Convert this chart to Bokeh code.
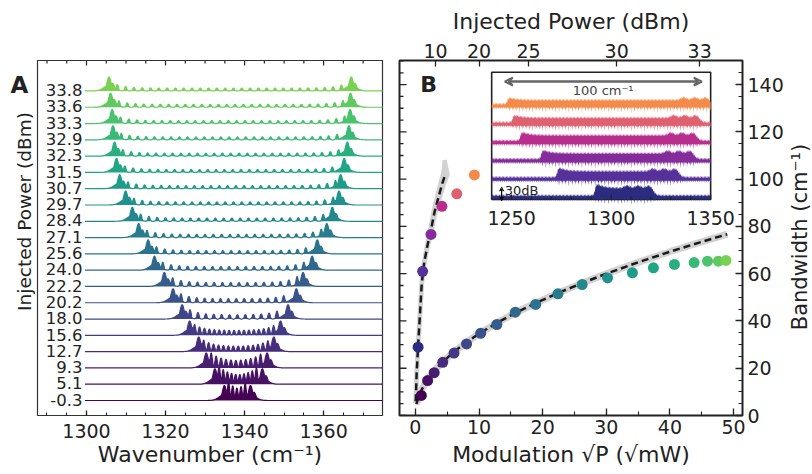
import math
import numpy as np
from bokeh.plotting import figure
from bokeh.layouts import row
from bokeh.models import (Range1d, LinearAxis, FixedTicker, SingleIntervalTicker, Arrow, VeeHead)
from bokeh.embed import file_html
from bokeh.resources import INLINE
from bokeh.palettes import Viridis256
from bokeh.core.properties import value

FONT = "DejaVu Sans"
INK = "#222222"

# ---------------- data: panel A (spectra) ----------------
power_labels = ["-0.3", "5.1", "9.3", "12.7", "15.6", "18.0", "20.2", "22.2", "24.0", "25.6",
                "27.1", "28.4", "29.7", "30.7", "31.5", "32.3", "32.9", "33.3", "33.6", "33.8"]
left_peak = [1334.9, 1332.5, 1330.3, 1328.4, 1326.1, 1324.2, 1321.9, 1319.7, 1317.2, 1315.6,
             1313.2, 1311.6, 1309.9, 1308.4, 1307.6, 1307.1, 1306.7, 1306.5, 1306.1, 1305.7]
right_peak = [1341.5, 1344.5, 1345.7, 1347.4, 1349.1, 1351.0, 1353.1, 1354.8, 1357.1, 1358.4,
              1360.8, 1362.2, 1363.9, 1364.3, 1365.2, 1366.0, 1366.4, 1366.7, 1366.8, 1367.0]
comb_spacing = [1.05, 1.05, 1.25, 1.25, 1.25, 2.0, 2.0, 2.1, 2.1, 2.1,
                2.1, 2.1, 2.1, 2.1, 2.1, 2.1, 2.1, 2.1, 2.1, 2.1]
comb_height = [0.5, 0.5, 0.42, 0.32, 0.3, 0.26, 0.25, 0.24, 0.22, 0.2,
               0.2, 0.2, 0.19, 0.19, 0.18, 0.18, 0.18, 0.18, 0.18, 0.18]
peak_height = [0.92, 0.95, 0.92, 0.9, 0.88, 0.88, 0.86, 0.86, 0.86, 0.86,
               0.86, 0.86, 0.86, 0.86, 0.86, 0.86, 0.86, 0.86, 0.86, 0.86]
a_ticks_major = [1300, 1320, 1340, 1360]

# ---------------- data: panel B ----------------
sqrt_p = [0.93, 1.92, 2.95, 4.3, 6.07, 8.04, 10.26, 12.8, 15.7, 18.9,
          22.4, 26.2, 30.2, 34.1, 37.4, 40.7, 43.8, 45.9, 47.6, 48.8]
bandwidth = [8.5, 14.8, 18.1, 22.5, 26.4, 30.3, 34.8, 38.5, 43.7, 47.0,
             51.5, 55.4, 58.2, 60.4, 62.5, 63.9, 64.7, 65.3, 65.3, 65.6]
fit_x = [0.15, 0.5, 1, 2, 3, 4, 6, 8, 10, 13, 16, 19, 22.5, 26, 30, 35, 40, 45, 49]
fit_y = [4.8, 7.7, 11.0, 15.5, 19.0, 21.9, 26.8, 31.0, 34.6, 39.5, 43.8, 47.7, 51.9, 55.8,
         60.0, 64.8, 69.3, 73.5, 76.7]

ins_sqrt_p = [0.42, 1.14, 2.45, 4.17, 6.5, 9.27]
ins_bandwidth = [28.9, 61.0, 76.6, 88.5, 93.8, 101.8]
steep_x = [0.05, 0.2, 0.42, 0.7, 1.0, 1.4, 1.9, 2.4, 3.0, 3.6, 4.2, 4.7]
steep_y = [6, 18, 29.5, 42, 56, 65, 72, 78, 86, 92, 98, 102]
steep_band = [0.06, 0.06, 0.06, 0.06, 0.07, 0.08, 0.1, 0.14, 0.2, 0.26, 0.32, 0.38]

dbm_ticks = [10, 20, 25, 30, 33]

# inset spectra (edges in cm^-1, plateau level)
inset_start = [1292.0, 1273.0, 1265.0, 1254.5, 1250.6, 1248.0]
inset_end = [1321.5, 1334.5, 1342.0, 1343.5, 1345.0, 1350.0]
inset_level = [0.55, 0.45, 0.42, 0.4, 0.34, 0.3]
inset_ticks = [1250, 1260, 1270, 1280, 1290, 1300, 1310, 1320, 1330, 1340, 1350]
inset_major = [1250, 1300, 1350]

inset_colors = ["#2b2c7f", "#56309b", "#842c9c", "#b72e8c", "#df606e", "#f48b4a"]
trace_colors = [Viridis256[int(round(i / 19 * 0.8 * 255))] for i in range(20)]


def style_axis(ax, size="19px", standoff=6, major_in=6, minor_in=3):
    ax.axis_line_color = None
    ax.major_tick_in = major_in
    ax.major_tick_out = 0
    ax.minor_tick_in = minor_in
    ax.minor_tick_out = 0
    ax.major_tick_line_color = INK
    ax.minor_tick_line_color = INK
    ax.major_tick_line_width = 1.3
    ax.minor_tick_line_width = 1.1
    ax.major_label_text_font = FONT
    ax.major_label_text_font_size = size
    ax.major_label_text_color = INK
    ax.major_label_standoff = standoff


def style_label(ax, text, size="22px", standoff=0):
    ax.axis_label = text
    ax.axis_label_text_font = FONT
    ax.axis_label_text_font_size = size
    ax.axis_label_text_font_style = "normal"
    ax.axis_label_text_color = INK
    ax.axis_label_standoff = standoff


def bare(p):
    p.grid.grid_line_color = None
    p.outline_line_color = None


H_ALL = 474
A_YR = (-0.92, 20.87)
B_YR = (0, 150.2)

# ================= left strip: panel letter and y label of A =================
pL = figure(width=35, height=H_ALL, x_range=Range1d(0, 35), y_range=Range1d(*A_YR),
            output_backend="svg", toolbar_location=None, x_axis_location=None, y_axis_location=None,
            min_border_left=0, min_border_right=0, min_border_top=59, min_border_bottom=59)
bare(pL)
pL.text(x=[10], y=[19.34], text=["A"], text_font=value(FONT), text_font_size="23px",
        text_font_style="bold", text_color=INK, text_align="left", text_baseline="middle")
pL.text(x=[24], y=[11.6], text=["Injected Power (dBm)"], angle=math.pi / 2,
        text_font=value(FONT), text_font_size="18.5px", text_color=INK,
        text_align="center", text_baseline="middle")

# ================= Panel A =================
pA = figure(width=356, height=H_ALL, x_range=Range1d(1287.6, 1374.9), y_range=Range1d(*A_YR),
            output_backend="svg", toolbar_location=None, y_axis_location=None,
            min_border_left=2, min_border_right=9, min_border_top=59, min_border_bottom=59)
pA.grid.grid_line_color = None
pA.outline_line_color = "#333333"
pA.outline_line_width = 1.2

tickA = SingleIntervalTicker(interval=20, num_minor_ticks=4)
pA.xaxis.ticker = tickA
style_axis(pA.xaxis[0], standoff=8, major_in=5, minor_in=3)
style_label(pA.xaxis[0], "Wavenumber (cm⁻¹)", "22px", 1)

# inward ticks on the top edge of A
a_top = [t for t in range(1290, 1376, 5)]
pA.ray(x=a_top, y=[A_YR[1]] * len(a_top), length=[5 if t in a_ticks_major else 3 for t in a_top],
       length_units="screen", angle=-math.pi / 2, line_color=INK, line_width=1.2)

xs = np.arange(1299.6, 1376.0, 0.03)
for i in range(20):
    L, R, d, h, Hp = left_peak[i], right_peak[i], comb_spacing[i], comb_height[i], peak_height[i]
    s = np.zeros_like(xs)
    for c in (L, R):
        s = np.maximum(s, Hp * np.exp(-0.5 * ((xs - c) / 0.5) ** 2))
        s = np.maximum(s, 0.55 * Hp * np.exp(-0.5 * ((xs - c - 0.9) / 0.45) ** 2))
        s = np.maximum(s, 0.4 * Hp * np.exp(-0.5 * ((xs - c) / 1.3) ** 2))
    k = L + d
    while k < R - 0.6 * d:
        dist = min(k - L, R - k)
        hh = h * (1 + 1.2 * np.exp(-(dist - d) / 2.5))
        s = np.maximum(s, hh * np.exp(-0.5 * ((xs - k) / 0.28) ** 2))
        k += d
    col = trace_colors[i]
    pA.varea(x=xs, y1=np.full_like(xs, i), y2=i + s, fill_color=col)
    pA.line(xs, i + s, line_color=col, line_width=1.2)

pA.text(x=[1299.0] * 20, y=[i + 0.05 for i in range(20)], text=power_labels,
        text_font=value(FONT), text_font_size="16.5px", text_color=INK,
        text_align="right", text_baseline="middle")

# ================= Panel B =================
pB = figure(width=395, height=H_ALL, x_range=Range1d(-2.5, 51.4), y_range=Range1d(*B_YR),
            output_backend="svg", toolbar_location=None, y_axis_location="right",
            min_border_left=8, min_border_right=42, min_border_top=60, min_border_bottom=59)
pB.grid.grid_line_color = None
pB.outline_line_color = INK
pB.outline_line_width = 2

tickBx = SingleIntervalTicker(interval=10, num_minor_ticks=2)
tickBy = SingleIntervalTicker(interval=20, num_minor_ticks=4)
pB.xaxis.ticker = tickBx
pB.yaxis.ticker = tickBy
style_axis(pB.xaxis[0], standoff=4, major_in=7, minor_in=4)
style_axis(pB.yaxis[0], standoff=5, major_in=7, minor_in=4)
style_label(pB.xaxis[0], "Modulation √P (√mW)", "22px", 5)

dbm_pos = [round(math.sqrt(10 ** (d / 10)), 4) for d in dbm_ticks]
topB = LinearAxis(ticker=FixedTicker(ticks=dbm_pos, minor_ticks=[]),
                  major_label_overrides={p: str(d) for p, d in zip(dbm_pos, dbm_ticks)})
style_axis(topB, standoff=3, major_in=6, minor_in=0)
style_label(topB, "Injected Power (dBm)", "22px", 7)
pB.add_layout(topB, "above")

# inward ticks on the left edge of B
b_left = [t for t in range(0, 151, 5)]
pB.ray(x=[-2.5] * len(b_left), y=b_left, length=[7 if t % 20 == 0 else 4 for t in b_left],
       length_units="screen", angle=0, line_color=INK, line_width=1.3)

# fit bands and dashed fits
pB.line(fit_x, fit_y, line_color="#d2d2d2", line_width=7)
band_x = ([x - w for x, w in zip(steep_x, steep_band)] + [4.6]
          + [x + w for x, w in zip(steep_x[::-1], steep_band[::-1])])
band_y = list(steep_y) + [108.0] + list(steep_y[::-1])
pB.patch(band_x, band_y, fill_color="#d2d2d2", line_color="#d2d2d2", line_width=4)
pB.line(fit_x, fit_y, line_color="#1a1a1a", line_width=2.5, line_dash="7 4")
pB.line(steep_x, steep_y, line_color="#1a1a1a", line_width=2.5, line_dash="7 4")

pB.scatter(sqrt_p, bandwidth, size=11, fill_color=trace_colors, line_color=None)
pB.scatter(ins_sqrt_p, ins_bandwidth, size=11, fill_color=inset_colors, line_color=None)

pB.text(x=[0.78], y=[140], text=["B"], text_font=value(FONT), text_font_size="22px",
        text_font_style="bold", text_color=INK, text_align="left", text_baseline="middle")

# ---------- inset ----------
pB.extra_x_ranges = {"ix": Range1d(1193.7, 1366.0)}
pB.extra_y_ranges = {"iy": Range1d(-11.93, 7.47)}
IB, IT = -0.126, 6.83
pB.quad(left=[1240], right=[1350], bottom=[IB], top=[IT], fill_color="white",
        line_color=INK, line_width=1.6, x_range_name="ix", y_range_name="iy")

ix = np.arange(1240.0, 1350.01, 0.05)
for j in range(6):
    s0, e0, lev = inset_start[j], inset_end[j], inset_level[j]
    rise = 1 / (1 + np.exp(-(ix - s0) / 0.35))
    fall = 1 / (1 + np.exp((ix - e0) / 0.7))
    gate = rise * fall
    env = lev * gate * (0.72 + 0.55 * np.exp(-np.clip(ix - s0, 0, None) / 3.5))
    for off in (2.5, 8.0, 13.5):
        env += 0.14 * gate * np.exp(-0.5 * ((ix - (e0 - off)) / 1.4) ** 2)
    tex = 0.05 * np.cos(2 * np.pi * ix / 0.7)
    top = j + 0.1 + env + tex
    bot = (j - 0.1 - 0.1 * np.cos(2 * np.pi * ix / 1.9) ** 12
           - 0.22 * gate * np.cos(2 * np.pi * ix / 3.3) ** 30)
    pB.varea(x=ix, y1=bot, y2=top, fill_color=inset_colors[j], x_range_name="ix", y_range_name="iy")

pB.ray(x=inset_ticks, y=[IB] * len(inset_ticks),
       length=[5 if t in inset_major else 3 for t in inset_ticks], length_units="screen",
       angle=math.pi / 2, line_color=INK, line_width=1.3, x_range_name="ix", y_range_name="iy")
pB.text(x=inset_major, y=[-1.11] * 3, text=[str(t) for t in inset_major], text_font=value(FONT),
        text_font_size="19px", text_color=INK, text_align="center", text_baseline="middle",
        x_range_name="ix", y_range_name="iy")

pB.add_layout(Arrow(x_start=1246.6, x_end=1345.6, y_start=6.32, y_end=6.32,
                    start=VeeHead(size=8, line_color="#666666", line_width=2, fill_color=None),
                    end=VeeHead(size=8, line_color="#666666", line_width=2, fill_color=None),
                    line_color="#666666", line_width=2.5, x_range_name="ix", y_range_name="iy"))
pB.text(x=[1296.0], y=[5.82], text=["100 cm⁻¹"], text_font=value(FONT), text_font_size="13px",
        text_color="#444444", text_align="center", text_baseline="middle",
        x_range_name="ix", y_range_name="iy")
pB.add_layout(Arrow(x_start=1245.0, x_end=1245.0, y_start=-0.2, y_end=0.55,
                    start=VeeHead(size=4, line_color="black", line_width=1, fill_color=None),
                    end=VeeHead(size=4, line_color="black", line_width=1, fill_color=None),
                    line_color="black", line_width=1.2, x_range_name="ix", y_range_name="iy"))
pB.text(x=[1246.6], y=[0.37], text=["30dB"], text_font=value(FONT), text_font_size="13px",
        text_color=INK, text_align="left", text_baseline="middle",
        x_range_name="ix", y_range_name="iy")

# ================= right strip: y label of B =================
pR = figure(width=26, height=H_ALL, x_range=Range1d(0, 26), y_range=Range1d(*B_YR),
            output_backend="svg", toolbar_location=None, x_axis_location=None, y_axis_location=None,
            min_border_left=0, min_border_right=0, min_border_top=60, min_border_bottom=59)
bare(pR)
pR.text(x=[13.5], y=[75.5], text=["Bandwidth (cm⁻¹)"], angle=math.pi / 2,
        text_font=value(FONT), text_font_size="21px", text_color=INK,
        text_align="center", text_baseline="middle")

layout = row(pL, pA, pB, pR)
open("out.html", "w").write(file_html(layout, INLINE))
